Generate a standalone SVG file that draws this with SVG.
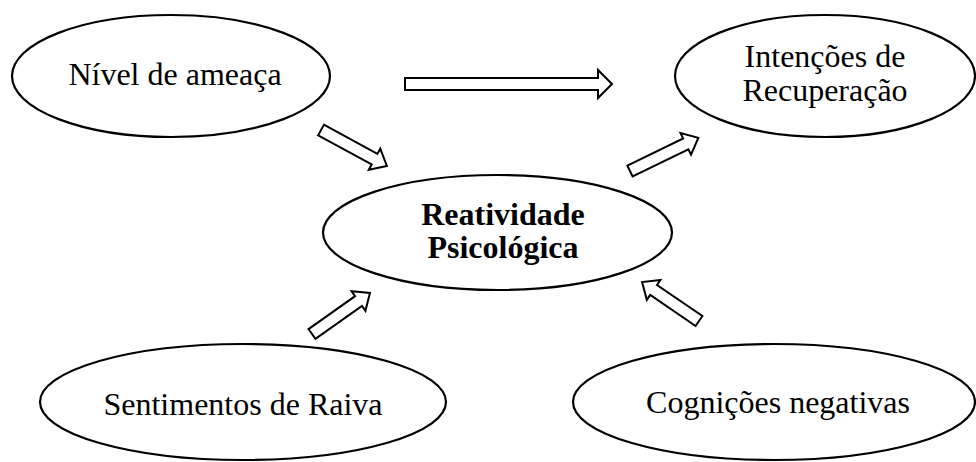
<svg xmlns="http://www.w3.org/2000/svg" width="976" height="462" viewBox="0 0 976 462">
<style>
.node ellipse{fill:#fff;stroke:#000;stroke-width:2.2}
.lbl{font-family:"Liberation Serif","Times New Roman",serif;font-size:32px;fill:#000;text-anchor:middle}
.bold{font-weight:bold}
.arr{fill:#fff;stroke:#000;stroke-width:2;stroke-linejoin:miter}
</style>
<rect width="976" height="462" fill="#fff"/>
<g id="connectors">
<polygon class="arr" points="405,78 598,78 598,70 612,84 598,98 598,90 405,90"/>
<polygon class="arr" transform="translate(321,130) rotate(28.6)" points="0,-6 61,-6 61,-12 75,0 61,12 61,6 0,6"/>
<polygon class="arr" transform="translate(630,171) rotate(-25.9)" points="0,-6 62,-6 62,-12 76,0 62,12 62,6 0,6"/>
<polygon class="arr" transform="translate(312,334) rotate(-35.3)" points="0,-6 57,-6 57,-12 71,0 57,12 57,6 0,6"/>
<polygon class="arr" transform="translate(699,321) rotate(214.4)" points="0,-6 55,-6 55,-12 69,0 55,12 55,6 0,6"/>
</g>
<g id="nivel" class="node">
<ellipse cx="171" cy="76" rx="159" ry="61"/>
<text class="lbl" x="175" y="85">Nível de ameaça</text>
</g>
<g id="intencoes" class="node">
<ellipse cx="825" cy="76" rx="150" ry="61"/>
<text class="lbl" x="825" y="67">Intenções de</text>
<text class="lbl" x="825" y="101">Recuperação</text>
</g>
<g id="reatividade" class="node">
<ellipse cx="497.5" cy="232.5" rx="174.5" ry="57.5"/>
<text class="lbl bold" x="503" y="225">Reatividade</text>
<text class="lbl bold" x="503" y="258">Psicológica</text>
</g>
<g id="sentimentos" class="node">
<ellipse cx="243" cy="402" rx="203" ry="58"/>
<text class="lbl" x="243" y="415">Sentimentos de Raiva</text>
</g>
<g id="cognicoes" class="node">
<ellipse cx="774" cy="402" rx="201" ry="58"/>
<text class="lbl" x="778" y="413">Cognições negativas</text>
</g>
</svg>
